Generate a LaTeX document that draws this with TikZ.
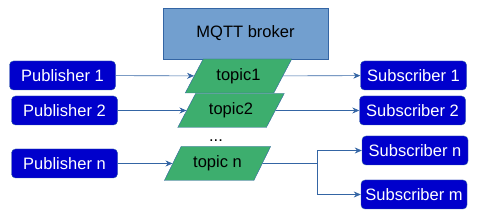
\documentclass[tikz,border=0pt]{standalone}
\usepackage{fontspec}
\setmainfont{Liberation Sans}
\usepackage{tikz}
\usetikzlibrary{positioning,arrows.meta,shapes.geometric}

\definecolor{clientfill}{HTML}{0000CC}
\definecolor{clientline}{HTML}{3465A4}
\definecolor{brokerfill}{HTML}{729FCF}
\definecolor{topicfill}{HTML}{3DAE6E}
\definecolor{topicline}{HTML}{3465A4}

\begin{document}
\begin{tikzpicture}[
  x=1pt, y=-1pt,
  client/.style={
    rounded corners=4pt,
    draw=clientline,
    fill=clientfill,
    text=white,
    minimum width=106pt,
    minimum height=29pt,
    inner sep=0pt,
    font=\fontsize{16.5}{18}\selectfont
  },
  broker/.style={
    draw=clientline,
    fill=brokerfill,
    minimum width=165pt,
    minimum height=51pt,
    font=\fontsize{16.5}{18}\selectfont
  },
  topic/.style={
    trapezium,
    trapezium left angle=54,
    trapezium right angle=126,
    trapezium stretches=true,
    draw=topicline,
    fill=topicfill,
    minimum width=107pt,
    minimum height=34pt,
    inner sep=0pt,
    font=\fontsize{16.5}{18}\selectfont
  },
  arrow/.style={-{Stealth[length=7pt,width=6pt]}, draw=clientline, line width=0.6pt}
]
\useasboundingbox (0,0) rectangle (484,213);

% broker and topics
\node[broker] (broker) at (245.5,33.5) {MQTT broker};
\node[topic] (topic1) at (238.5,76) {topic1};
\node[topic] (topic2) at (231,110.5) {topic2};
\node[topic] (topicn) at (217.5,163.5) {topic n};
\node[font=\fontsize{16.5}{18}\selectfont] (dots) at (216,141) {...};

% publishers
\node[client] (pub1) at (62.5,75.5) {Publisher 1};
\node[client] (pub2) at (64.5,110.5) {Publisher 2};
\node[client] (pubn) at (64.5,163.5) {Publisher n};

% subscribers
\node[client] (sub1) at (413.5,75.5) {Subscriber 1};
\node[client] (sub2) at (412.5,110.5) {Subscriber 2};
\node[client] (subn) at (415,150.5) {Subscriber n};
\node[client] (subm) at (414,194.5) {Subscriber m};
\coordinate (fork) at (317,163.5);

% arrows
\draw[arrow] (pub1) -- (topic1);
\draw[arrow] (pub2) -- (topic2);
\draw[arrow] (pubn) -- (topicn);
\draw[arrow] (topic1) -- (sub1);
\draw[arrow] (topic2) -- (sub2);
\draw[draw=clientline, line width=0.6pt] (topicn) -- (fork);
\draw[arrow] (fork) |- (subn);
\draw[arrow] (fork) |- (subm);
\end{tikzpicture}
\end{document}
